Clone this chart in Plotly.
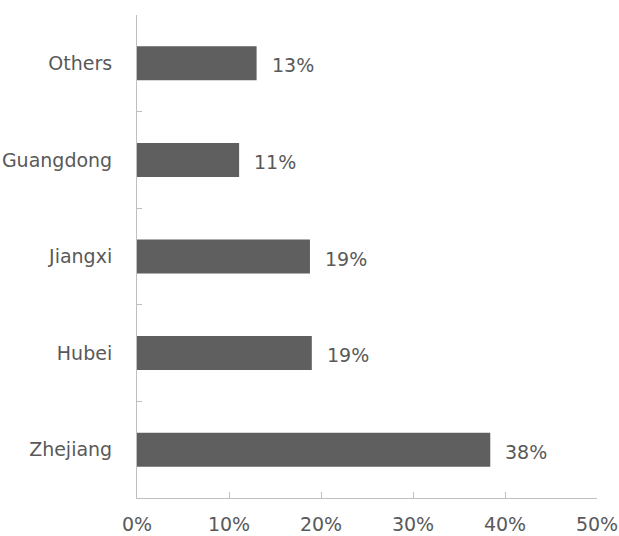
import plotly.graph_objects as go

categories = ["Zhejiang", "Hubei", "Jiangxi", "Guangdong", "Others"]
shares = [0.384, 0.190, 0.188, 0.111, 0.130]
labels = ["38%", "19%", "19%", "11%", "13%"]
x_ticks = [0, 0.1, 0.2, 0.3, 0.4, 0.5]
x_tick_text = ["0%", "10%", "20%", "30%", "40%", "50%"]

FONT = "DejaVu Sans"
TXT = "#595959"
AXIS = "#bfbfbf"
FS = 19

fig = go.Figure(go.Bar(
    x=shares, y=categories, orientation="h",
    marker=dict(color="#5f5f5f", line=dict(width=0)),
    hoverinfo="skip",
))

for c, v, t in zip(categories, shares, labels):
    fig.add_annotation(x=v, y=c, text=t, showarrow=False, xanchor="left",
                       xshift=13, yshift=-2, font=dict(family=FONT, size=FS, color=TXT))

fig.update_layout(
    width=619, height=536,
    margin=dict(l=137, r=22, t=15, b=38),
    paper_bgcolor="white", plot_bgcolor="white",
    bargap=0.648, showlegend=False,
    font=dict(family=FONT, size=FS, color=TXT),
)
fig.update_xaxes(range=[0, 0.5], tickvals=x_ticks, ticktext=x_tick_text,
                 automargin=False,
                 showgrid=False, zeroline=False, showline=True, linecolor=AXIS,
                 linewidth=1, ticks="inside", ticklen=6, tickcolor=AXIS,
                 ticklabelstandoff=9, tickfont=dict(family=FONT, size=FS, color=TXT))
fig.update_yaxes(categoryorder="array", categoryarray=categories,
                 automargin=False,
                 showgrid=False, zeroline=False, showline=True, linecolor=AXIS,
                 linewidth=1, ticks="inside", ticklen=5, tickcolor=AXIS,
                 tickson="boundaries", ticklabelstandoff=20,
                 tickfont=dict(family=FONT, size=FS, color=TXT))

fig.write_html("out.html")
